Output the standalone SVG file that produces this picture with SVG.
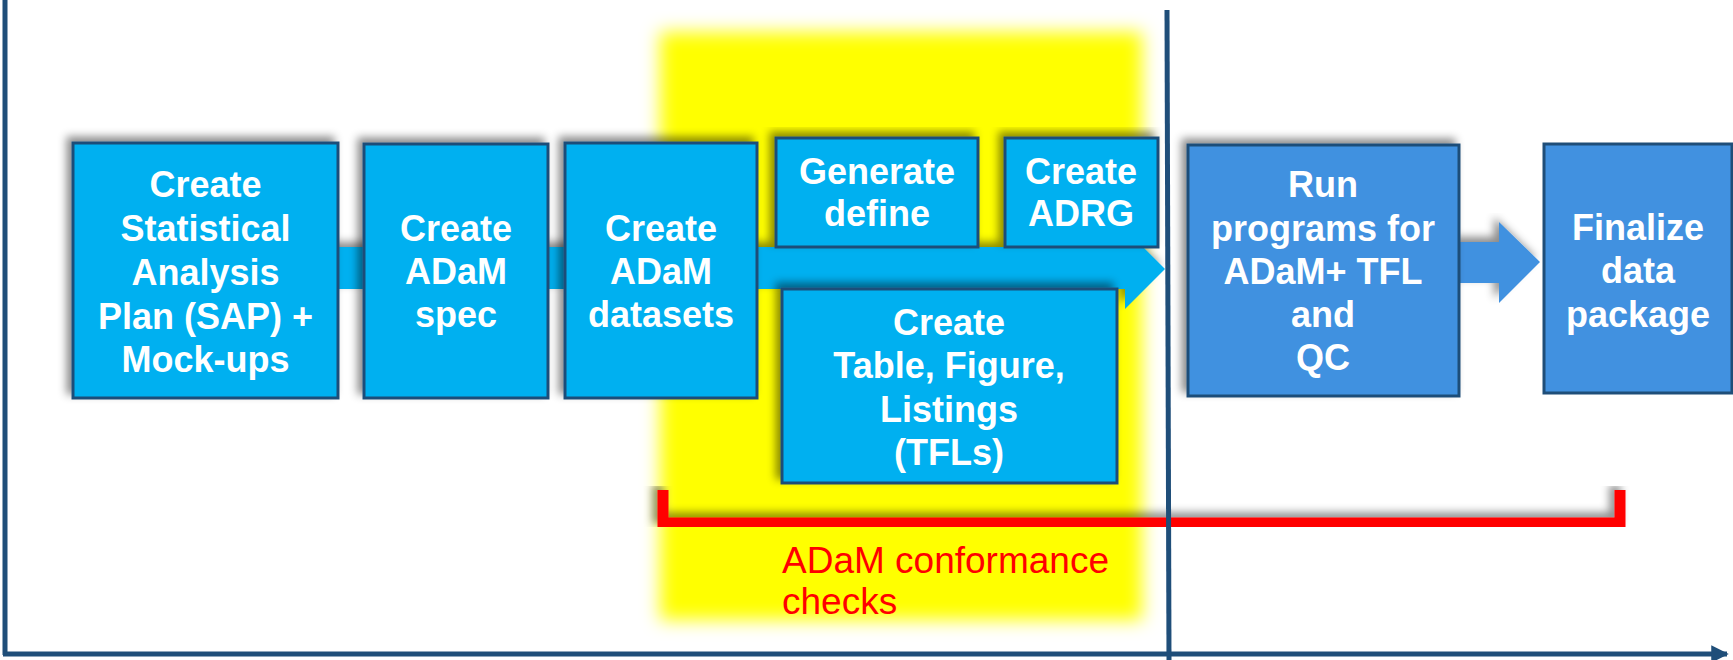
<svg xmlns="http://www.w3.org/2000/svg" width="1733" height="660" viewBox="0 0 1733 660">
<defs>
<filter id="sh" x="-10%" y="-10%" width="120%" height="120%">
<feDropShadow dx="-5" dy="-5" stdDeviation="4" flood-color="#000" flood-opacity="0.45"/>
</filter>
<filter id="blur" x="-10%" y="-10%" width="120%" height="120%">
<feGaussianBlur stdDeviation="9"/>
</filter>
<marker id="ah" viewBox="0 0 10 10" refX="9" refY="5" markerWidth="4.5" markerHeight="3.5" orient="auto" markerUnits="strokeWidth">
<path d="M0,0 L10,5 L0,10 z" fill="#1F4E79"/>
</marker>
<style>
.b1{fill:#00B0F0;stroke:#1F4E79;stroke-width:3}
.b2{fill:#4191E0;stroke:#1F4E79;stroke-width:3}
.t{font-family:"Liberation Sans",Arial,sans-serif;font-size:36px;font-weight:bold;fill:#fff;text-anchor:middle}
.axis{stroke:#1F4E79;stroke-width:5;fill:none}
</style>
</defs>
<rect width="1733" height="660" fill="#fff"/>
<rect x="660" y="32" width="482" height="588" fill="#FFFF00" filter="url(#blur)"/>
<g id="connectors">
<polygon points="300,247 1125,247 1125,229 1165,269 1125,309 1125,289 300,289" fill="#00B0F0" filter="url(#sh)"/>
<polygon points="1459,242 1499,242 1499,222 1540,262 1499,303 1499,283 1459,283" fill="#4191E0" filter="url(#sh)"/>
<path d="M663,490 L663,523 L1620,523 L1620,490" stroke="#FF0000" stroke-width="11" fill="none" filter="url(#sh)"/>
<line class="axis" x1="5" y1="0" x2="5" y2="655"/>
<line class="axis" x1="3" y1="654" x2="1727" y2="654" marker-end="url(#ah)"/>
<line class="axis" x1="1167" y1="10" x2="1169" y2="660" stroke-width="4"/>
</g>
<g id="n1"><rect class="b1" x="73" y="143" width="265" height="255" filter="url(#sh)"/>
<text class="t"><tspan x="205.5" y="197">Create</tspan><tspan x="205.5" y="241">Statistical</tspan><tspan x="205.5" y="285">Analysis</tspan><tspan x="205.5" y="329">Plan (SAP) +</tspan><tspan x="205.5" y="372">Mock-ups</tspan></text></g>
<g id="n2"><rect class="b1" x="364" y="144" width="184" height="254" stroke-width="4" filter="url(#sh)"/>
<text class="t"><tspan x="456" y="241">Create</tspan><tspan x="456" y="284">ADaM</tspan><tspan x="456" y="327">spec</tspan></text></g>
<g id="n3"><rect class="b1" x="565" y="143" width="192" height="255" filter="url(#sh)"/>
<text class="t"><tspan x="661" y="241">Create</tspan><tspan x="661" y="284">ADaM</tspan><tspan x="661" y="327">datasets</tspan></text></g>
<g id="n4"><rect class="b1" x="776" y="138" width="202" height="109" stroke-width="4" filter="url(#sh)"/>
<text class="t"><tspan x="877" y="184">Generate</tspan><tspan x="877" y="226">define</tspan></text></g>
<g id="n5"><rect class="b1" x="1005" y="138" width="153" height="109" stroke-width="4" filter="url(#sh)"/>
<text class="t"><tspan x="1081" y="184">Create</tspan><tspan x="1081" y="226">ADRG</tspan></text></g>
<g id="n6"><rect class="b1" x="782" y="289" width="335" height="194" stroke-width="4" filter="url(#sh)"/>
<text class="t"><tspan x="949" y="335">Create</tspan><tspan x="949" y="378">Table, Figure,</tspan><tspan x="949" y="422">Listings</tspan><tspan x="949" y="465">(TFLs)</tspan></text></g>
<g id="n7"><rect class="b2" x="1188" y="145" width="271" height="251" stroke-width="4" filter="url(#sh)"/>
<text class="t"><tspan x="1323" y="197">Run</tspan><tspan x="1323" y="241">programs for</tspan><tspan x="1323" y="284">ADaM+ TFL</tspan><tspan x="1323" y="327">and</tspan><tspan x="1323" y="370">QC</tspan></text></g>
<g id="n8"><rect class="b2" x="1544" y="144" width="188" height="249" stroke-width="4"/>
<text class="t"><tspan x="1638" y="240">Finalize</tspan><tspan x="1638" y="283">data</tspan><tspan x="1638" y="327">package</tspan></text></g>
<text x="782" y="573" font-family="Liberation Sans, Arial, sans-serif" font-size="37" fill="#FF0000"><tspan x="782" y="573">ADaM conformance</tspan><tspan x="782" y="614">checks</tspan></text>
</svg>
